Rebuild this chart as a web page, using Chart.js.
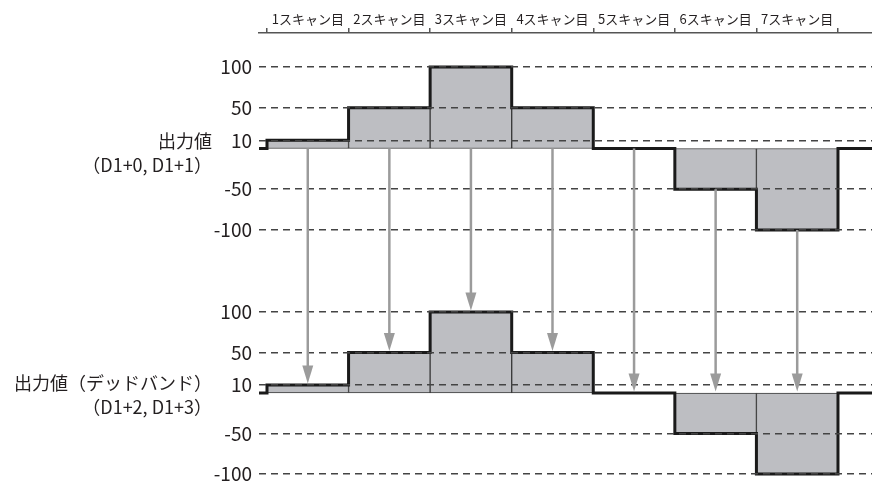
<!DOCTYPE html>
<html lang="ja">
<head>
<meta charset="utf-8">
<script src="https://cdn.jsdelivr.net/npm/chart.js@4.4.1/dist/chart.umd.min.js"></script>
<style>
    html, body { margin: 0; padding: 0; background: #fff; }
</style>
</head>
<body>
<canvas id="grafico" width="872" height="485"></canvas>
<script>
const scanLabels = ['1スキャン目', '2スキャン目', '3スキャン目', '4スキャン目', '5スキャン目', '6スキャン目', '7スキャン目'];
const outputValues = [10, 50, 100, 50, 0, -50, -100];
const deadbandValues = [10, 50, 100, 50, 0, -50, -100];
const yTickValues = [100, 50, 10, -50, -100];
const topTitle = ['出力値', '（D1+0, D1+1）'];
const bottomTitle = ['出力値（デッドバンド）', '（D1+2, D1+3）'];

const FUENTE = "'Noto Sans CJK JP', 'Noto Sans', sans-serif";
const TEXTO = '#231f20';
const RELLENO = '#bdbec2';

function puntosBarra(valores) {
    return valores.map((v, i) => ({ x: i + 1, y: v }));
}

// linea escalonada: cada punto marca donde empieza el nuevo valor
function puntosEscalon(valores) {
    const pts = [{ x: 0, y: 0 }];
    valores.forEach((v, i) => pts.push({ x: i + 0.5, y: v }));
    pts.push({ x: valores.length + 0.5, y: 0 });
    pts.push({ x: valores.length + 2, y: 0 });
    return pts;
}

function ejeY(min, max, peso) {
    return {
        type: 'linear', position: 'left', stack: 'paneles', stackWeight: 1, weight: peso,
        min, max,
        afterBuildTicks: s => { s.ticks = yTickValues.map(v => ({ value: v })); },
        afterFit: s => { s.width = 259; s.paddingTop = 0; s.paddingBottom = 0; },
        grid: { color: '#444', lineWidth: 1.5, drawTicks: false, z: 1 },
        border: { display: false, dash: [7, 5] },
        ticks: { callback: v => v, font: { family: FUENTE, size: 19 }, color: TEXTO, padding: 7 }
    };
}

const flechas = {
    id: 'flechas',
    afterDraw(chart) {
        const { ctx, scales } = chart;
        ctx.save();
        ctx.strokeStyle = '#9b9b9b';
        ctx.fillStyle = '#9b9b9b';
        ctx.lineWidth = 2.5;
        outputValues.forEach((v, i) => {
            const px = scales.x.getPixelForValue(i + 1);
            const y0 = scales.yTop.getPixelForValue(Math.min(v, 0));
            const y1 = scales.yBot.getPixelForValue(Math.max(deadbandValues[i], 0)) - 1.5;
            ctx.beginPath();
            ctx.moveTo(px, y0);
            ctx.lineTo(px, y1 - 14);
            ctx.stroke();
            ctx.beginPath();
            ctx.moveTo(px, y1);
            ctx.lineTo(px - 5.5, y1 - 18);
            ctx.lineTo(px + 5.5, y1 - 18);
            ctx.closePath();
            ctx.fill();
        });
        ctx.restore();
    }
};

const titulos = {
    id: 'titulos',
    afterDraw(chart) {
        const { ctx, scales, chartArea } = chart;
        ctx.save();
        ctx.font = `18px ${FUENTE}`;
        ctx.fillStyle = TEXTO;
        ctx.textAlign = 'right';
        ctx.textBaseline = 'middle';
        const x = chartArea.left - 47;
        const yA = scales.yTop.getPixelForValue(10) + 1;
        ctx.fillText(topTitle[0], x, yA);
        ctx.fillText(topTitle[1], x, yA + 24);
        const yB = scales.yBot.getPixelForValue(10) - 2;
        ctx.fillText(bottomTitle[0], x, yB);
        ctx.fillText(bottomTitle[1], x, yB + 24);
        ctx.restore();
    }
};

const escalonComun = { type: 'line', stepped: 'before', borderColor: '#1a1a1a', borderWidth: 3, pointRadius: 0, fill: false, order: 0 };
const barraComun = { type: 'bar', backgroundColor: RELLENO, borderColor: '#3a3a3a', borderWidth: 1, borderSkipped: false, grouped: false, barPercentage: 1, categoryPercentage: 1, order: 1 };

new Chart(document.getElementById('grafico'), {
    type: 'line',
    data: {
        datasets: [
            { ...escalonComun, data: puntosEscalon(outputValues), yAxisID: 'yTop' },
            { ...escalonComun, data: puntosEscalon(deadbandValues), yAxisID: 'yBot' },
            { ...barraComun, data: puntosBarra(outputValues), yAxisID: 'yTop' },
            { ...barraComun, data: puntosBarra(deadbandValues), yAxisID: 'yBot' }
        ]
    },
    options: {
        responsive: false,
        animation: false,
        layout: { padding: { left: 0, right: 0, top: 0, bottom: 2 } },
        plugins: { legend: { display: false }, tooltip: { enabled: false } },
        scales: {
            x: {
                type: 'linear', position: 'top', min: 0.402, max: 7.917, offset: false,
                afterBuildTicks: s => { s.ticks = scanLabels.map((_, i) => ({ value: i + 1 })); },
                afterFit: s => { s.height = 33; },
                grid: { offset: true, drawOnChartArea: false, drawTicks: true, tickLength: 5, color: '#555', lineWidth: 1.5 },
                border: { display: true, color: '#555', width: 1.5 },
                ticks: { callback: (v, i) => scanLabels[i], font: { family: FUENTE, size: 13 }, color: TEXTO, padding: 1, maxRotation: 0, autoSkip: false }
            },
            yTop: ejeY(-134.4, 141.7, 1),
            yBot: ejeY(-111.1, 166.7, 0)
        }
    },
    plugins: [flechas, titulos]
});
</script>
</body>
</html>
